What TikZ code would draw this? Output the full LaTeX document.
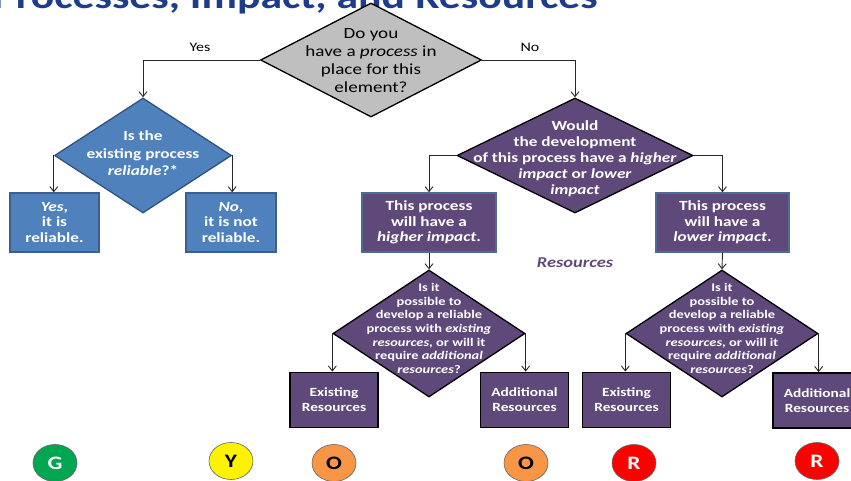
\documentclass[tikz,border=0pt]{standalone}
\usepackage{fontspec}
\setmainfont{Carlito}[FakeStretch=1.23]
\usetikzlibrary{shapes.geometric,arrows.meta}
\definecolor{bluefill}{HTML}{4F81BD}
\definecolor{blueline}{HTML}{2F5283}
\definecolor{boxblueline}{HTML}{3A6090}
\definecolor{purp}{HTML}{5F497A}
\definecolor{greyfill}{HTML}{BFBFBF}
\definecolor{titleblue}{HTML}{1F3C8C}
\definecolor{gcol}{HTML}{00A650}
\definecolor{ocol}{HTML}{F79646}
\definecolor{impedge}{HTML}{4E6B94}
\begin{document}
\begin{tikzpicture}[x=1pt,y=-1pt,
  conn/.style={draw=black!85, line width=0.9pt, -{Straight Barb[length=5pt,width=8pt,line width=0.9pt]}},
  dia/.style={diamond, inner sep=0pt, line width=1.3pt},
  greydia/.style={dia, draw=black, fill=greyfill},
  bluedia/.style={dia, draw=blueline, fill=bluefill},
  purpdia/.style={dia, draw=black, fill=purp},
  dtext/.style={align=center, inner sep=0pt},
  bluebox/.style={rectangle, draw=boxblueline, line width=1.4pt, fill=bluefill, text=white, align=center,
     font=\fontsize{14}{15.5}\selectfont\bfseries, inner sep=0pt, minimum height=59pt},
  impbox/.style={rectangle, draw=impedge, line width=1.4pt, fill=purp, text=white, align=center,
     font=\fontsize{14}{15.5}\selectfont\bfseries, inner sep=0pt, minimum height=59pt},
  resbox/.style={rectangle, draw=black, line width=1.8pt, fill=purp, text=white, align=center,
     font=\fontsize{12.5}{15}\selectfont\bfseries, inner sep=0pt, minimum width=88pt, minimum height=55pt},
  rating/.style={ellipse, draw=black!60, line width=0.6pt, minimum width=44pt, minimum height=37pt,
     inner sep=0pt, font=\fontsize{19}{21}\selectfont\bfseries},
  yn/.style={font=\fontsize{13}{15}\selectfont, inner sep=0pt}
]
\useasboundingbox (0,0) rectangle (851,481);
\clip (0,0) rectangle (851,481);

% title (clipped at top, as in the reference)
\node[anchor=base east, inner sep=0pt, text=titleblue, font=\fontsize{35.5}{40}\selectfont\bfseries] (title) at (598,9) {Processes, Impact, and Resources};

% top question
\node[greydia, minimum width=221pt, minimum height=114pt,
  label={[dtext, yshift=-1pt, font=\fontsize{15.5}{18}\selectfont]center:Do you\\have a \textit{process} in\\place for this\\element?}] (q1) at (371,60) {};

% left branch
\node[bluedia, minimum width=177pt, minimum height=115pt,
  label={[dtext, yshift=2pt, text=white, font=\fontsize{14}{17.5}\selectfont\bfseries]center:Is the\\existing process\\\textit{reliable}?*}] (q2) at (143,155.5) {};
\node[bluebox, minimum width=89pt] (yesbox) at (54.5,222.5) {\textit{Yes},\\it is\\reliable.};
\node[bluebox, minimum width=90pt] (nobox) at (231,222.5) {\textit{No},\\it is not\\reliable.};

% right branch
\node[purpdia, minimum width=236pt, minimum height=115pt,
  label={[dtext, yshift=-3pt, text=white, font=\fontsize{14}{16}\selectfont\bfseries]center:Would\\the development\\of this process have a \textit{higher}\\\textit{impact} or \textit{lower}\\\textit{impact}}] (q3) at (575,155.5) {};
\node[impbox, minimum width=134pt] (hibox) at (429,222.5) {This process\\will have a\\\textit{higher impact}.};
\node[impbox, minimum width=133pt] (lobox) at (722.5,222.5) {This process\\will have a\\\textit{lower impact}.};

\node[text=purp, inner sep=0pt, font=\fontsize{15}{17}\selectfont\bfseries\itshape] (reslabel) at (575,263) {Resources};

% resource questions
\node[purpdia, minimum width=192pt, minimum height=127pt,
  label={[dtext, yshift=5pt, text=white, font=\fontsize{11.7}{13.7}\selectfont\bfseries]center:Is it\\possible to\\develop a reliable\\process with \textit{existing}\\\textit{resources}, or will it\\require \textit{additional}\\\textit{resources}?}] (q4) at (429,333.5) {};
\node[purpdia, minimum width=192pt, minimum height=127pt,
  label={[dtext, yshift=5pt, text=white, font=\fontsize{11.7}{13.7}\selectfont\bfseries]center:Is it\\possible to\\develop a reliable\\process with \textit{existing}\\\textit{resources}, or will it\\require \textit{additional}\\\textit{resources}?}] (q5) at (722,333.5) {};

\node[resbox] (ex1) at (334,400) {Existing\\Resources};
\node[resbox] (ad1) at (524.5,400) {Additional\\Resources};
\node[resbox] (ex2) at (626.5,400) {Existing\\Resources};
\node[resbox] (ad2) at (817,400.5) {Additional\\Resources};

% ratings
\node[rating, fill=gcol, text=white] (rg) at (55,463) {G};
\node[rating, fill=yellow, text=black] (ry) at (231,461) {Y};
\node[rating, fill=ocol, text=black] (ro1) at (334,463) {O};
\node[rating, fill=ocol, text=black] (ro2) at (526,463) {O};
\node[rating, fill=red, text=white] (rr1) at (634,463) {R};
\node[rating, fill=red, text=white] (rr2) at (817,461) {R};

% yes / no labels
\node[yn] (yeslbl) at (200,47) {Yes};
\node[yn] (nolbl) at (530,47) {No};

% connectors
\draw[conn] (q1.west) -| (q2.north);
\draw[conn] (q1.east) -| (q3.north);
\draw[conn] (q2.west) -- (yesbox.north -| q2.west);
\draw[conn] (q2.east) -- (nobox.north -| q2.east);
\draw[conn] (q3.west) -| (hibox.north);
\draw[conn] (q3.east) -| (lobox.north);
\draw[conn] (hibox.south) -- (q4.north);
\draw[conn] (lobox.south) -- (q5.north);
\draw[conn] (q4.west) -- (ex1.north -| q4.west);
\draw[conn] (q4.east) -- (ad1.north -| q4.east);
\draw[conn] (q5.west) -- (ex2.north -| q5.west);
\draw[conn] (q5.east) -- (ad2.north -| q5.east);
\end{tikzpicture}
\end{document}
